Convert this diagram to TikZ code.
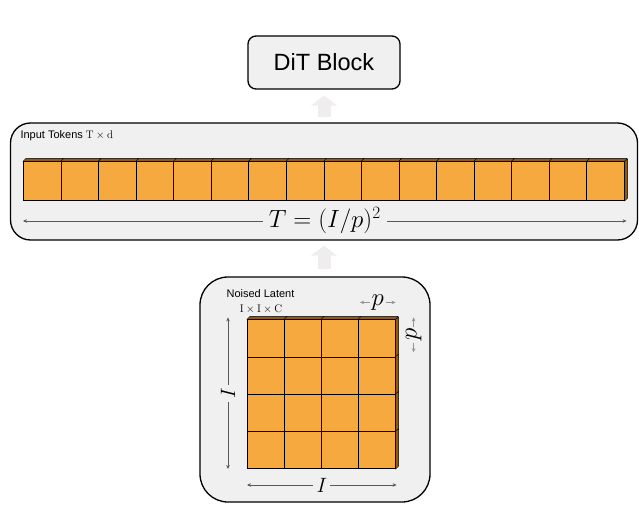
\documentclass[tikz,border=0pt]{standalone}
\usepackage{fontspec}
\newfontfamily\labelfont{Liberation Sans}
\usetikzlibrary{arrows.meta,calc}
\definecolor{boxgray}{HTML}{F0F0F0}
\definecolor{token}{HTML}{F5A93F}
\definecolor{tokside}{HTML}{8A5B1E}
\definecolor{fatgray}{HTML}{EFEDED}

\begin{document}
\begin{tikzpicture}[x=1pt,y=1pt,>={Stealth[length=4pt,width=3.5pt]},
 panel/.style={draw,line width=1.3pt,fill=boxgray,rounded corners=#1},
 cell/.style={draw,line width=.6pt,fill=token,inner sep=0,anchor=south west},
 face/.style={fill=tokside,draw,line width=.4pt},
 fatarrow/.style={fatgray,line width=13pt,-{Triangle[width=26pt,length=10pt]}},
 dim/.style={draw=gray!70!black,line width=.6pt,<->},
 pdim/.style={draw=gray!85,line width=.6pt,<->}]
 \useasboundingbox (0,0) rectangle (639,504);
 % panels
 \node[panel=8pt,minimum width=152pt,minimum height=53pt,
  font=\labelfont\fontsize{23.5}{26}\selectfont] (dit) at (324,441.5) {DiT Block};
 \node[panel=20pt,minimum width=627pt,minimum height=117pt] (tokens) at (324,322.5) {};
 \node[panel=28pt,minimum width=230pt,minimum height=225pt] (latent) at (315,114.5) {};
 \draw[fatarrow] ([yshift=5pt]tokens.north) -- ([yshift=-6pt]dit.south);
 \draw[fatarrow] ([yshift=-28pt]tokens.south) -- ([yshift=-5pt]tokens.south);
 \node[anchor=west,font=\labelfont\fontsize{11}{13}\selectfont] (toklabel) at (17,368)
  {Input Tokens $\mathrm{T\times d}$};
 \node[font=\labelfont\fontsize{11}{13}\selectfont] (latlabel) at (260.5,210) {Noised Latent};
 \node[font=\fontsize{11}{13}\selectfont] (latsize) at (261,195) {$\mathrm{I\times I\times C}$};
 % token row
 \foreach \i in {1,...,16}
  \node[cell,minimum width=37.56pt,minimum height=39pt] (t\i) at ({23+(\i-1)*37.5625},303) {};
 \foreach \i in {1,...,16}
  \path[face] (t\i.north west) -- ++(3,3) -- ++(37.56,0) -- (t\i.north east) -- cycle;
 \path[face] (t16.south east) -- ++(3,3) -- ++(0,39) -- (t16.north east) -- cycle;
 \draw[dim] ([yshift=-20pt]t1.south west) -- ([xshift=2pt,yshift=-20pt]t16.south east)
  node[midway,fill=boxgray,inner xsep=6pt,font=\fontsize{24}{26}\selectfont] (tlen) {$T=(I/p)^2$};
 % latent grid
 \foreach \r in {1,...,4}
  \foreach \c in {1,...,4}
   \node[cell,minimum width=37pt,minimum height=37.25pt] (g\r\c) at ({247+(\c-1)*37},{35+(4-\r)*37.25}) {};
 \foreach \c in {1,...,4}
  \path[face] (g1\c.north west) -- ++(3,3) -- ++(37,0) -- (g1\c.north east) -- cycle;
 \foreach \r in {1,...,4}
  \path[face] (g\r4.south east) -- ++(3,3) -- ++(0,37.25) -- (g\r4.north east) -- cycle;
 \draw[dim] ([xshift=-19pt,yshift=2pt]g11.north west) -- ([xshift=-19pt]g41.south west)
  node[midway,fill=boxgray,rotate=90,font=\fontsize{20}{22}\selectfont] (ileft) {$I$};
 \draw[dim] ([yshift=-16pt]g41.south west) -- ([xshift=1pt,yshift=-16pt]g44.south east)
  node[midway,fill=boxgray,font=\fontsize{20}{22}\selectfont] (ibottom) {$I$};
 \draw[pdim] ([xshift=2pt,yshift=17pt]g14.north west) -- ([yshift=17pt]g14.north east)
  node[midway,fill=boxgray,inner sep=2pt,font=\fontsize{24}{26}\selectfont] (ptop) {$p$};
 \draw[pdim] ([xshift=18pt,yshift=2pt]g14.north east) -- ([xshift=18pt,yshift=5pt]g14.south east)
  node[midway,fill=boxgray,inner sep=2pt,rotate=90,font=\fontsize{24}{26}\selectfont] (pright) {$p$};
\end{tikzpicture}
\end{document}
